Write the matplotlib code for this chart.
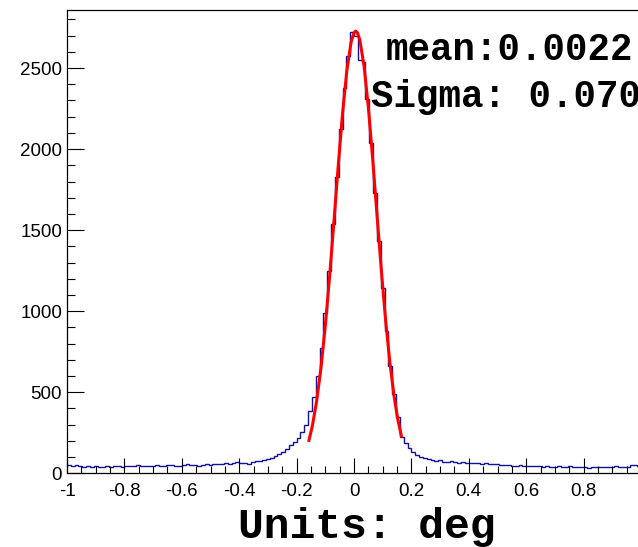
import numpy as np
import matplotlib
matplotlib.use('Agg')
import matplotlib.pyplot as plt
from matplotlib.ticker import MultipleLocator

plt.rcParams['axes.unicode_minus'] = False

# histogram: 150 bins from -1 to 1 (counts)
x_lo, x_hi, n_bins = -1.0, 1.0, 150
counts = [52, 48, 50, 44, 40, 45, 38, 42, 36, 41,
          44, 39, 42, 46, 40, 47, 43, 45, 50, 44,
          48, 42, 46, 51, 47, 44, 49, 53, 48, 45,
          51, 55, 49, 52, 47, 54, 58, 52, 56, 60,
          55, 62, 58, 64, 70, 62, 66, 60, 68, 74,
          78, 85, 90, 97, 108, 118, 134, 150, 176, 194,
          218, 252, 300, 385, 470, 600, 770, 990, 1245, 1535,
          1830, 2125, 2375, 2575, 2725, 2700, 2550, 2535, 2310, 2040,
          1730, 1430, 1140, 880, 660, 490, 345, 225, 188, 158,
          130, 112, 103, 95, 89, 84, 78, 81, 72, 70,
          74, 68, 66, 70, 63, 65, 61, 64, 58, 62,
          57, 55, 59, 52, 50, 54, 48, 46, 50, 45,
          43, 47, 42, 44, 40, 45, 41, 38, 43, 40,
          37, 42, 39, 36, 40, 38, 35, 39, 41, 37,
          40, 36, 39, 42, 38, 41, 40, 52, 50, 48]

# gaussian fit curve
fit_x = [-0.157, -0.145, -0.13, -0.115, -0.1, -0.085, -0.07, -0.055, -0.04,
         -0.025, -0.01, 0.0, 0.006, 0.012, 0.02, 0.035, 0.05, 0.065, 0.08,
         0.095, 0.11, 0.125, 0.14, 0.152, 0.165]
fit_y = [203, 293, 447, 652, 909, 1214, 1551, 1896, 2218,
         2483, 2661, 2718, 2728, 2718, 2676, 2513, 2257, 1941, 1597,
         1257, 947, 683, 471, 339, 230]

fit_mean, fit_sigma = "0.0022", "0.070"

x_ticks = [-1, -0.8, -0.6, -0.4, -0.2, 0, 0.2, 0.4, 0.6, 0.8]
x_ticklabels = ['-1', '-0.8', '-0.6', '-0.4', '-0.2', '0', '0.2', '0.4', '0.6', '0.8']
y_ticks = [0, 500, 1000, 1500, 2000, 2500]

# GRAPH #
fig = plt.figure(figsize=(6.38, 5.47), dpi=100)
ax = fig.add_axes([67/638, 73.7/547, 574/638, 463.3/547])

edges = np.linspace(x_lo, x_hi, n_bins + 1)
ax.stairs(counts, edges, color='#12129a', lw=1.0, baseline=None)
ax.plot(fit_x, fit_y, color='#ff0000', lw=2.2)

ax.set_xlim(-1, 1)
ax.set_ylim(0, 2858)

ax.set_xticks(x_ticks)
ax.set_xticklabels(x_ticklabels)
ax.set_yticks(y_ticks)
ax.set_yticklabels([str(v) for v in y_ticks])
ax.xaxis.set_minor_locator(MultipleLocator(0.05))
ax.yaxis.set_minor_locator(MultipleLocator(100))

ax.tick_params(axis='x', which='major', direction='in', length=11, width=0.8,
               pad=7, labelsize=13.5)
ax.tick_params(axis='x', which='minor', direction='in', length=5, width=0.8)
ax.tick_params(axis='y', which='major', direction='in', length=12, width=0.8,
               pad=3.5, labelsize=13.5)
ax.tick_params(axis='y', which='minor', direction='in', length=6, width=0.8)
for lab in ax.get_xticklabels() + ax.get_yticklabels():
    lab.set_family('Liberation Sans')

for sp in ax.spines.values():
    sp.set_linewidth(0.9)

fig.text(386/638, 1 - 60/547, 'mean:' + fit_mean, ha='left', va='baseline',
         fontsize=27, family='Liberation Mono', weight='bold')
fig.text(371/638, 1 - 107/547, 'Sigma: ' + fit_sigma, ha='left', va='baseline',
         fontsize=27, family='Liberation Mono', weight='bold')
fig.text(367/638, 1 - 538/547, 'Units: deg', ha='center', va='baseline',
         fontsize=31, family='Liberation Mono', weight='bold')

fig.savefig('out.png', dpi=100)
